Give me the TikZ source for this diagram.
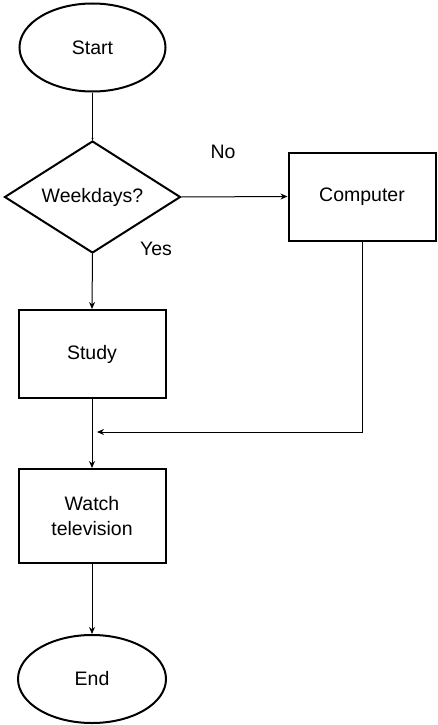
\documentclass[tikz,border=0pt]{standalone}
\usepackage{fontspec}
\setmainfont{Liberation Sans}
\usetikzlibrary{shapes.geometric,arrows.meta}
\begin{document}
\begin{tikzpicture}[x=1pt,y=-1pt,
  every node/.style={font=\fontsize{19.5}{25}\selectfont, text=black},
  term/.style={ellipse, draw, line width=2pt, minimum width=146pt, minimum height=88pt, inner sep=0pt},
  proc/.style={rectangle, draw, line width=2pt, minimum width=147pt, minimum height=88pt, inner sep=0pt, align=center},
  decis/.style={diamond, draw, line width=2pt, minimum width=176pt, minimum height=112pt, inner sep=0pt, aspect=1.57},
  conn/.style={line width=1pt, -{Stealth[length=7pt,width=6pt]}},
  lbl/.style={inner sep=0pt}]
\useasboundingbox (0,0) rectangle (438,725);
\node[term] (start) at (92.5,47.5) {Start};
\node[decis] (dec) at (92.5,197) {Weekdays?};
\node[proc] (comp) at (362,196.5) {Computer};
\node[proc] (study) at (92,354) {Study};
\node[proc, minimum height=94pt] (watch) at (92,516) {Watch\\television};
\node[term, minimum width=148pt] (end) at (92,679) {End};
\node[lbl] (no) at (223,152) {No};
\node[lbl] (yes) at (156,249) {Yes};
\coordinate (merge) at (97,432);
\draw[line width=1pt, -{Stealth[length=2pt,width=2pt]}] (start.south) -- (dec.north);
\draw[conn] (dec.east) -- (comp.west);
\draw[conn] (dec.south) -- (study.north);
\draw[conn] (study.south) -- (watch.north);
\draw[conn] (comp.south) -- (comp.south |- merge) -- (merge);
\draw[conn] (watch.south) -- (end.north);
\end{tikzpicture}
\end{document}
